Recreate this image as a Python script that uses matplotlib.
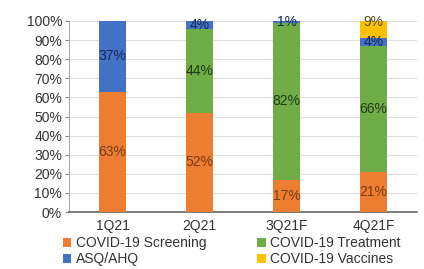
import matplotlib
matplotlib.use("Agg")
import matplotlib.pyplot as plt
import numpy as np

plt.rcParams['font.family'] = ['Liberation Sans', 'DejaVu Sans']

categories = ['1Q21', '2Q21', '3Q21F', '4Q21F']
screening = [63, 52, 17, 21]
treatment = [0, 44, 82, 66]
asq = [37, 4, 1, 4]
vaccines = [0, 0, 0, 9]

series = [
    ('COVID-19 Screening', screening, '#ED7D31', '#7a3a10'),
    ('COVID-19 Treatment', treatment, '#70AD47', '#1f3a12'),
    ('ASQ/AHQ', asq, '#4472C4', '#14285a'),
    ('COVID-19 Vaccines', vaccines, '#FFC000', '#5a4a10'),
]
# fraction of segment height at which each series' label sits
label_frac = [0.5, 0.5, 0.5, 0.95]

fig = plt.figure(figsize=(4.24, 2.69), dpi=100)
ax = fig.add_axes([69/424, 1 - 212/269, 348/424, 191/269])

x = np.arange(len(categories))
bottom = np.zeros(len(categories))
handles = []
for (name, vals, col, tcol), frac in zip(series, label_frac):
    vals = np.array(vals, dtype=float)
    b = ax.bar(x, vals, 0.31, bottom=bottom, color=col, label=name, zorder=3)
    handles.append(b)
    for xi, v, bt in zip(x, vals, bottom):
        if v > 0:
            ax.text(xi, bt + v * frac, f'{int(v)}%', ha='center', va='center',
                    fontsize=10, color=tcol, zorder=4)
    bottom += vals

ax.set_xlim(-0.5, 3.5)
ax.set_ylim(0, 100)
ax.set_yticks(range(0, 101, 10))
ax.set_yticklabels([f'{v}%' for v in range(0, 101, 10)], fontsize=10, color='#333333')
ax.set_xticks(x)
ax.set_xticklabels(categories, fontsize=10, color='#333333')
ax.tick_params(axis='x', length=0, pad=5)
ax.tick_params(axis='y', length=3, width=0.8, color='#888888', pad=2)
ax.yaxis.grid(True, color='#e0e0e0', linewidth=0.8, zorder=0)
for s in ['top', 'right']:
    ax.spines[s].set_visible(False)
ax.spines['left'].set_color('#aaaaaa')
ax.spines['bottom'].set_color('#666666')
ax.spines['bottom'].set_linewidth(1.2)

order = [0, 2, 1, 3]
leg = fig.legend([handles[i] for i in order], [series[i][0] for i in order],
                 ncol=2, loc='upper left', bbox_to_anchor=(63/424, 1 - 236/269),
                 frameon=False, fontsize=10, handlelength=0.6, handleheight=0.6,
                 handletextpad=0.3, columnspacing=3.7, labelspacing=0.15,
                 borderaxespad=0, borderpad=0)
for t in leg.get_texts():
    t.set_color('#333333')

fig.savefig('out.png', dpi=100)
